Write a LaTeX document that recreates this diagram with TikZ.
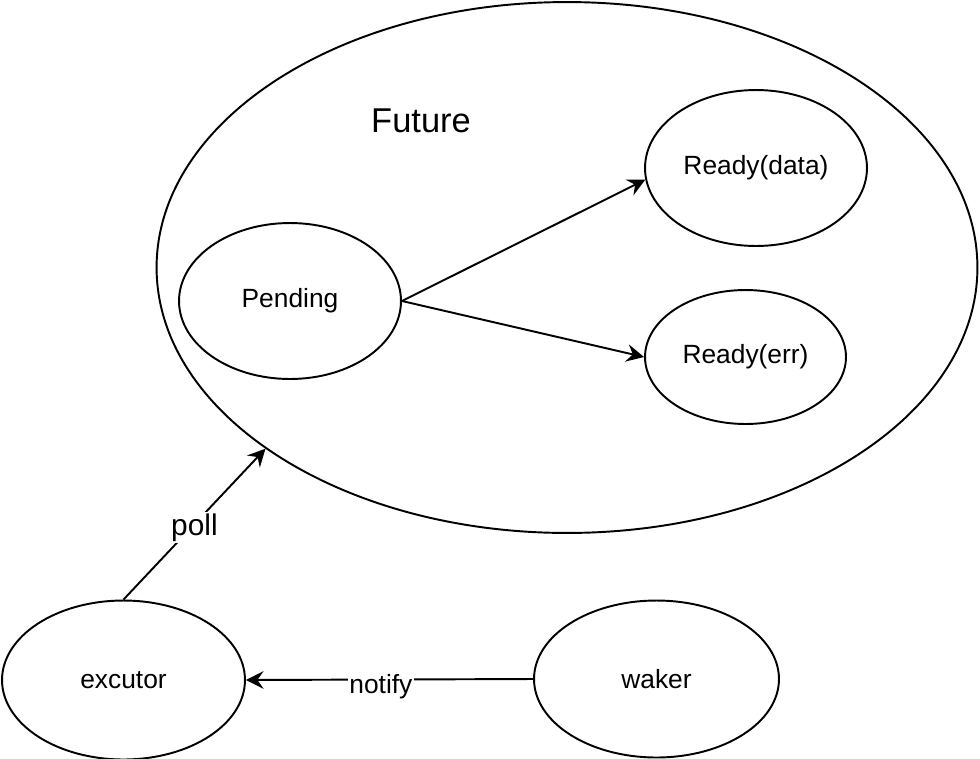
\documentclass[tikz,border=0pt]{standalone}
\usepackage{fontspec}
\setmainfont{Liberation Sans}
\usetikzlibrary{shapes.geometric,arrows.meta}

\tikzset{
    state/.style={draw, ellipse, line width=1.1pt, inner sep=0pt, font=\fontsize{15}{18}\selectfont},
    arr/.style={line width=1.1pt, -{Stealth[length=10pt, width=10pt, inset=3.5pt]}},
    lbl/.style={fill=white, inner sep=1pt}
}

\begin{document}
\begin{tikzpicture}[x=0.02cm, y=-0.02cm]
                \useasboundingbox (0,0) rectangle (980,758);

                % Future and its states
                \node[state, minimum width=16.42cm, minimum height=10.62cm] (future) at (567,267.5) {};
                \node[font=\fontsize{19.6}{23}\selectfont] (futurelbl) at (421,121) {Future};
                \node[state, minimum width=4.44cm, minimum height=3.12cm] (pending) at (290,301) {Pending};
                \node[state, minimum width=4.44cm, minimum height=3.12cm] (readydata) at (756,168) {Ready(data)};
                \node[state, minimum width=4.02cm, minimum height=2.68cm] (readyerr) at (745.5,357) {Ready(err)};

                % Outside
                \node[state, minimum width=4.86cm, minimum height=3.18cm] (excutor) at (123.5,680) {excutor};
                \node[state, minimum width=4.9cm, minimum height=3.14cm] (waker) at (656.5,679) {waker};

                \draw[arr] (pending.east) -- (readydata.186);
                \draw[arr] (pending.east) -- (readyerr.west);
                \draw[arr] (excutor.north) -- (future.211)
                    node[lbl, midway, yshift=-2pt, font=\fontsize{17}{20}\selectfont] {poll};
                \draw[arr] (waker.west) -- (excutor.east)
                    node[lbl, pos=0.53, yshift=-4pt, font=\fontsize{15}{18}\selectfont] {notify};
            \end{tikzpicture}
\end{document}
